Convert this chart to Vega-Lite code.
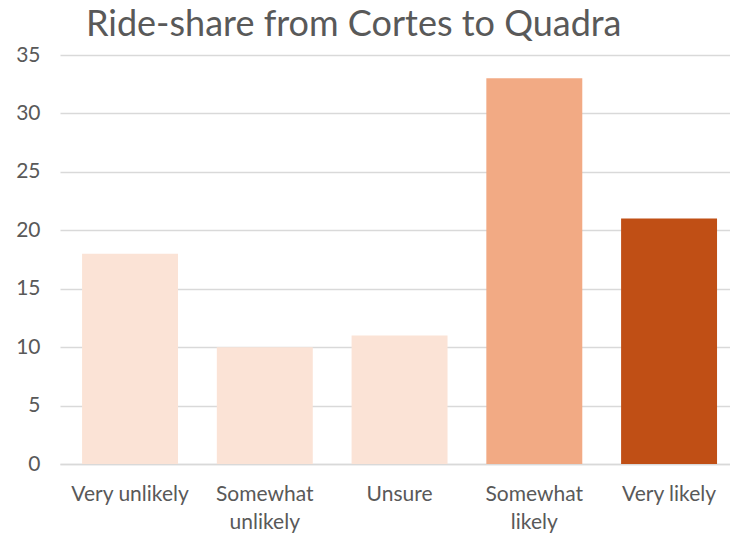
{
  "$schema": "https://vega.github.io/schema/vega-lite/v6.json",
  "autosize": {"type": "none"},
  "padding": {"left": 60, "top": 55, "right": 0, "bottom": 77},
  "width": 670,
  "height": 409,
  "background": "white",
  "title": {
    "text": "Ride-share from Cortes to Quadra",
    "anchor": "start",
    "frame": "group",
    "dx": 26,
    "dy": 36,
    "offset": 0,
    "baseline": "bottom",
    "font": "Lato",
    "fontSize": 36,
    "fontWeight": "normal",
    "color": "#595959"
  },
  "data": {
    "values": [
      {"response": "Very unlikely", "count": 18, "tone": "light"},
      {"response": "Somewhat unlikely", "count": 10, "tone": "light"},
      {"response": "Unsure", "count": 11, "tone": "light"},
      {"response": "Somewhat likely", "count": 33, "tone": "mid"},
      {"response": "Very likely", "count": 21, "tone": "dark"}
    ]
  },
  "config": {
    "view": {"stroke": null},
    "axis": {"labelFont": "Lato", "labelColor": "#595959", "titleFont": "Lato"}
  },
  "mark": {"type": "bar"},
  "encoding": {
    "x": {
      "field": "response",
      "type": "nominal",
      "sort": null,
      "scale": {"paddingInner": 0.288, "paddingOuter": 0.13, "align": 0.63},
      "axis": {
        "title": null,
        "labelAngle": 0,
        "labelFontSize": 21,
        "labelPadding": 19,
        "ticks": false,
        "domainColor": "#D9D9D9",
        "domainWidth": 1.5,
        "labelLineHeight": 28,
        "labelExpr": "indexof(datum.label,'Somewhat')==0 ? split(datum.label,' ') : datum.label"
      }
    },
    "y": {
      "field": "count",
      "type": "quantitative",
      "scale": {"domain": [0, 35]},
      "axis": {
        "title": null,
        "values": [0, 5, 10, 15, 20, 25, 30, 35],
        "labelFontSize": 21,
        "labelPadding": 20,
        "ticks": false,
        "domain": false,
        "gridColor": "#D9D9D9",
        "gridWidth": 1.5
      }
    },
    "color": {
      "field": "tone",
      "type": "nominal",
      "scale": {"domain": ["light", "mid", "dark"], "range": ["#FBE3D6", "#F2AA84", "#C04F15"]},
      "legend": null
    }
  }
}
